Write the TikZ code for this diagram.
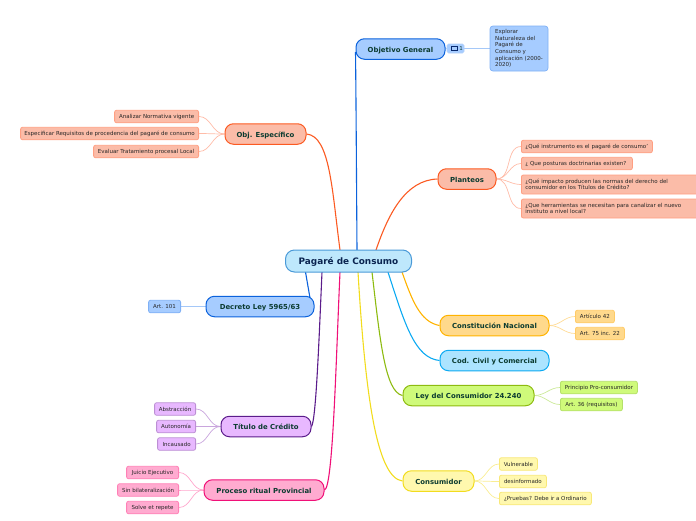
\documentclass[tikz,border=0pt]{standalone}
\usepackage{fontspec}
\setmainfont{DejaVu Sans}
\usetikzlibrary{backgrounds}
\definecolor{txtb}{HTML}{0B3B30}
\definecolor{txtl}{HTML}{262626}
\definecolor{txtr}{HTML}{0A2450}
\definecolor{rootf}{HTML}{BEE8FC}\definecolor{rootd}{HTML}{4A9AD8}
\definecolor{bluef}{HTML}{A6CCFF}\definecolor{blued}{HTML}{0B62DC}\definecolor{bluel}{HTML}{7FB0F5}
\definecolor{redf}{HTML}{FBBCA8}\definecolor{redd}{HTML}{FB5A22}\definecolor{redl}{HTML}{FF9F82}
\definecolor{orf}{HTML}{FFD98C}\definecolor{ord}{HTML}{FFB300}\definecolor{orl}{HTML}{FFCB66}
\definecolor{cyf}{HTML}{ACE4FF}\definecolor{cyd}{HTML}{0DAAF2}
\definecolor{grf}{HTML}{CFFA7A}\definecolor{grd}{HTML}{8DBB10}\definecolor{grl}{HTML}{B5E06A}
\definecolor{yef}{HTML}{FFF8AE}\definecolor{yed}{HTML}{F2DC1E}\definecolor{yel}{HTML}{F8E878}
\definecolor{pif}{HTML}{FFABD0}\definecolor{pid}{HTML}{F01078}\definecolor{pil}{HTML}{FF80B6}
\definecolor{puf}{HTML}{E8B8FF}\definecolor{pud}{HTML}{5B1C8B}\definecolor{pul}{HTML}{BC8FD4}
\tikzset{
  rootnode/.style={draw=rootd,fill=rootf,line width=1pt,rounded corners=9pt,minimum width=126pt,minimum height=22pt,inner sep=0pt,font=\fontsize{8.9}{10}\selectfont\bfseries,text=txtr,text height=9pt,text depth=2pt},
  branch/.style n args={3}{draw=#2,fill=#1,line width=1pt,rounded corners=8.5pt,minimum width=#3,minimum height=20.5pt,inner sep=0pt,font=\fontsize{6.9}{8}\selectfont\bfseries,text=txtb,text height=7.5pt,text depth=1.5pt},
  leaf/.style n args={3}{draw=#2,fill=#1,line width=.8pt,rounded corners=2pt,minimum width=#3,minimum height=12.5pt,inner sep=0pt,font=\fontsize{5.5}{6.6}\selectfont,text=txtl,text height=5.5pt,text depth=1pt},
  twoline/.style={minimum height=19pt,text height=,text depth=,text width=171pt,align=left},
  conn/.style={line width=1.1pt},
  sub/.style={line width=.7pt,out=0,in=180},
  subl/.style={line width=.7pt,out=180,in=0},
}
\begin{document}
\begin{tikzpicture}[x=1pt,y=-1pt]
\useasboundingbox (0,0) rectangle (696,520);
% root
\node[rootnode] (root) at (348.5,261) {Pagaré de Consumo};
% branches
\node[branch={bluef}{blued}{89pt}] (obj) at (400.5,49) {Objetivo General};
\node[branch={redf}{redd}{58pt}] (plan) at (467,179) {Planteos};
\node[branch={redf}{redd}{81pt}] (esp) at (265.5,134) {Obj. Específico};
\node[branch={bluef}{blued}{108pt}] (dec) at (260,306.5) {Decreto Ley 5965/63};
\node[branch={puf}{pud}{90pt}] (tit) at (266,426.5) {Título de Crédito};
\node[branch={pif}{pid}{120pt}] (pro) at (264,490) {Proceso ritual Provincial};
\node[branch={orf}{ord}{109pt}] (con) at (494.5,325.5) {Constitución Nacional};
\node[branch={cyf}{cyd}{109pt}] (cod) at (494.5,360.5) {Cod. Civil y Comercial};
\node[branch={grf}{grd}{131pt}] (ley) at (468.5,395.5) {Ley del Consumidor 24.240};
\node[branch={yef}{yed}{71pt}] (cns) at (438.5,481) {Consumidor};
% objetivo detail
\node[draw=bluel!60!white,fill=bluef,line width=.6pt,rounded corners=1.5pt,minimum width=17pt,minimum height=9pt,inner sep=0pt,font=\fontsize{5.5}{6}\selectfont,text=txtb,anchor=center] (bad) at (455.5,48.5) {\hspace{11pt}1};
\draw[txtb!70!blue,line width=.45pt] (450.8,46.2) rectangle (456.8,49.8);
\draw[txtb!70!blue,line width=.45pt] (452.5,50.6) -- (455,50.6);
\node[draw=bluel,fill=bluef,line width=.7pt,rounded corners=3pt,minimum width=58pt,minimum height=45pt,inner sep=0pt,font=\fontsize{5.5}{6.55}\selectfont,text=txtl,align=left] (det) at (519,48.5) {Explorar\\Naturaleza del\\Pagaré de\\Consumo y\\aplicación (2000-\\2020)};
% planteos leaves
\node[leaf={redf}{redl}{131pt},anchor=west,text width=123pt,align=left] (p1) at (521,146.5) {¿Qué instrumento es el pagaré de consumo'};
\node[leaf={redf}{redl}{111pt},anchor=west,text width=103pt,align=left] (p2) at (521,163.5) {¿ Que posturas doctrinarias existen?};
\node[leaf={redf}{redl}{179pt},anchor=west,twoline] (p3) at (521,184.5) {¿Qué impacto producen las normas del derecho del\\consumidor en los Títulos de Crédito?};
\node[leaf={redf}{redl}{179pt},anchor=west,twoline] (p4) at (521,208.5) {¿Que herramientas se necesitan para canalizar el nuevo\\instituto a nivel local?};
% especifico leaves
\node[leaf={redf}{redl}{84pt},anchor=east] (e1) at (199,116.5) {Analizar Normativa vigente};
\node[leaf={redf}{redl}{178pt},anchor=east] (e2) at (199,133.5) {Especificar Requisitos de procedencia del pagaré de consumo};
\node[leaf={redf}{redl}{105pt},anchor=east] (e3) at (199,151.5) {Evaluar Tratamiento procesal Local};
% decreto
\node[leaf={bluef}{bluel}{32pt},anchor=east] (d1) at (181,306.5) {Art. 101};
% titulo
\node[leaf={puf}{pul}{41pt},anchor=east] (t1) at (196,409) {Abstracción};
\node[leaf={puf}{pul}{39pt},anchor=east] (t2) at (196,426.5) {Autonomía};
\node[leaf={puf}{pul}{38pt},anchor=east] (t3) at (196,444) {Incausado};
% proceso
\node[leaf={pif}{pil}{52pt},anchor=east] (r1) at (179,472.5) {Juicio Ejecutivo};
\node[leaf={pif}{pil}{61pt},anchor=east] (r2) at (179,490) {Sin bilateralización};
\node[leaf={pif}{pil}{52pt},anchor=east] (r3) at (179,507.5) {Solve et repete};
% constitucion
\node[leaf={orf}{orl}{39pt},anchor=west] (c1) at (575,316.5) {Artículo 42};
\node[leaf={orf}{orl}{49pt},anchor=west] (c2) at (575,333.5) {Art. 75 inc. 22};
% ley
\node[leaf={grf}{grl}{77pt},anchor=west] (l1) at (560,387.5) {Principio Pro-consumidor};
\node[leaf={grf}{grl}{62pt},anchor=west] (l2) at (560,404.5) {Art. 36 (requisitos)};
% consumidor
\node[leaf={yef}{yel}{38pt},anchor=west] (k1) at (499,464) {Vulnerable};
\node[leaf={yef}{yel}{47pt},anchor=west] (k2) at (499,481.5) {desinformado};
\node[leaf={yef}{yel}{92pt},anchor=west] (k3) at (499,498.5) {¿Pruebas? Debe ir a Ordinario};
% attachment points on the central node
\coordinate (rt1) at (357,250); \coordinate (rt2) at (376,250); \coordinate (rt3) at (340,250);
\coordinate (rb1) at (305.5,272); \coordinate (rb2) at (322,272); \coordinate (rb3) at (340,272);
\coordinate (rb4) at (358,272); \coordinate (rb5) at (372,272); \coordinate (rb6) at (388,272); \coordinate (rb7) at (402,272);
\coordinate (dectop) at (310,298);
\begin{scope}[on background layer]
\draw[conn,blued] (rt1) .. controls (356.5,180) and (356,90) .. (355.5,52);
\draw[conn,redd] (rt2) .. controls (388,215) and (405,180) .. (plan.west);
\draw[conn,redd] (rt3) .. controls (332,190) and (330,136) .. (esp.east);
\draw[conn,blued] (rb1) -- (dectop);
\draw[conn,pud] (rb2) .. controls (319,340) and (316,420) .. (tit.east);
\draw[conn,pid] (rb3) .. controls (336,360) and (333,488) .. (pro.east);
\draw[conn,yed] (rb4) .. controls (365,390) and (376,478) .. (cns.west);
\draw[conn,grd] (rb5) .. controls (380,340) and (385,392) .. (ley.west);
\draw[conn,cyd] (rb6) .. controls (405,325) and (415,358) .. (cod.west);
\draw[conn,ord] (rb7) .. controls (412,300) and (420,322) .. (con.west);
\draw[line width=.9pt,bluel!70!white] (bad.east) -- (det.west);
\draw[line width=.9pt,bluel!70!white] (obj.east) -- (bad.west);
\foreach \n in {p1,p2,p3,p4} \draw[sub,redl!70!white] (plan.east) to (\n.west);
\foreach \n in {e1,e2,e3} \draw[subl,redl!70!white] (esp.west) to (\n.east);
\draw[line width=.9pt,bluel!70!white] (dec.west) -- (d1.east);
\foreach \n in {t1,t2,t3} \draw[subl,pul!80!white] (tit.west) to (\n.east);
\foreach \n in {r1,r2,r3} \draw[subl,pil!70!white] (pro.west) to (\n.east);
\foreach \n in {c1,c2} \draw[sub,orl!70!white] (con.east) to (\n.west);
\foreach \n in {l1,l2} \draw[sub,grl!70!white] (ley.east) to (\n.west);
\foreach \n in {k1,k2,k3} \draw[sub,yel!80!white] (cns.east) to (\n.west);
\end{scope}
\end{tikzpicture}
\end{document}
